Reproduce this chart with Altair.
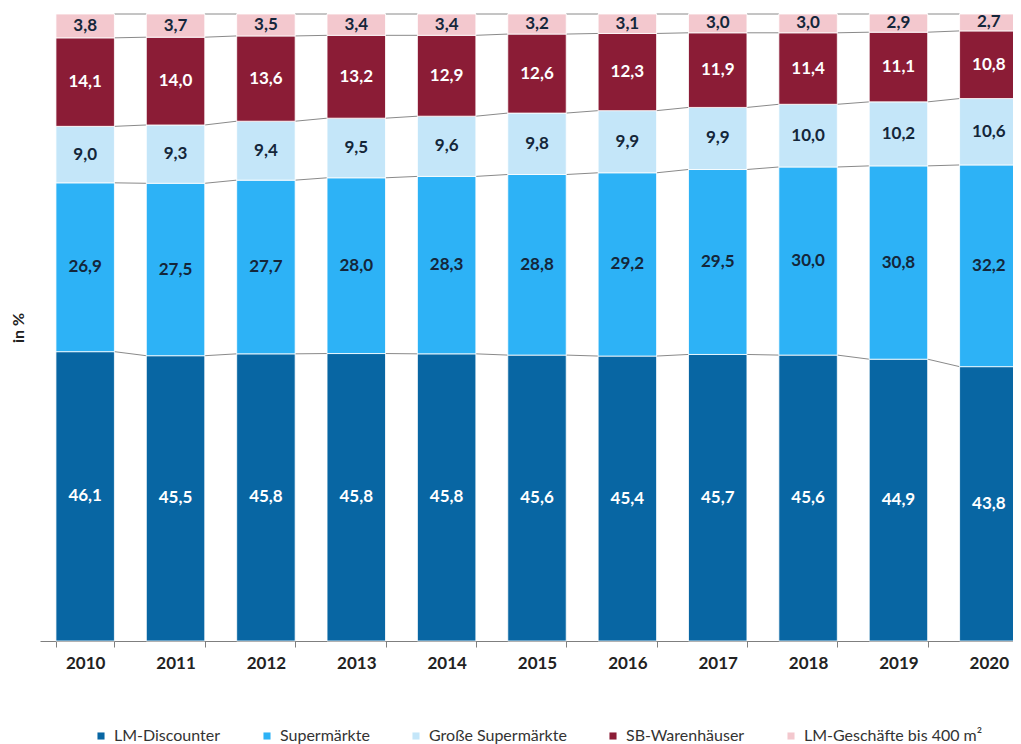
import altair as alt
import pandas as pd

years = [2010, 2011, 2012, 2013, 2014, 2015, 2016, 2017, 2018, 2019, 2020]
categories = ["LM-Discounter", "Supermärkte", "Große Supermärkte", "SB-Warenhäuser", "LM-Geschäfte bis 400 m²"]
discounter = [46.1, 45.5, 45.8, 45.8, 45.8, 45.6, 45.4, 45.7, 45.6, 44.9, 43.8]
supermaerkte = [26.9, 27.5, 27.7, 28.0, 28.3, 28.8, 29.2, 29.5, 30.0, 30.8, 32.2]
grosse = [9.0, 9.3, 9.4, 9.5, 9.6, 9.8, 9.9, 9.9, 10.0, 10.2, 10.6]
warenhaeuser = [14.1, 14.0, 13.6, 13.2, 12.9, 12.6, 12.3, 11.9, 11.4, 11.1, 10.8]
klein = [3.8, 3.7, 3.5, 3.4, 3.4, 3.2, 3.1, 3.0, 3.0, 2.9, 2.7]

colors = ["#0866a3", "#2db2f6", "#c4e6f9", "#8b1c36", "#f3c8ce"]
text_colors = ["#ffffff", "#14263a", "#14263a", "#ffffff", "#14263a"]

series = [discounter, supermaerkte, grosse, warenhaeuser, klein]

rows = []
tops = []
for i, yr in enumerate(years):
    vals = [s[i] for s in series]
    tot = sum(vals)
    cum = 0.0
    t = []
    for k, (cat, v) in enumerate(zip(categories, vals)):
        share = v / tot * 100
        rows.append(dict(year=str(yr), cat=cat, y0=cum, y1=cum + share,
                         mid=cum + share / 2,
                         label=f"{v:.1f}".replace(".", ","),
                         tc=text_colors[k]))
        cum += share
        t.append(cum)
    tops.append(t)
df = pd.DataFrame(rows)

conn_rows = []
for i in range(len(years) - 1):
    for k, cat in enumerate(categories):
        conn_rows.append(dict(year=str(years[i]), nxt=str(years[i + 1]),
                              lvl=tops[i][k], lvl2=tops[i + 1][k]))
conn = pd.DataFrame(conn_rows)

font = "Lato"

xscale = alt.Scale(domain=[str(y) for y in years], range=[0, 994],
                   paddingInner=0.353, paddingOuter=0.1765)
yscale = alt.Scale(domain=[0, 100], nice=False)

xaxis = alt.Axis(title=None, labelAngle=0, labelFont=font, labelFontSize=17,
                 labelFontWeight="bold", labelColor="#222222",
                 domainColor="#7f7f7f", tickColor="#7f7f7f", tickSize=6,
                 tickBand="extent", labelPadding=8)
yaxis = alt.Axis(title="in %", labels=False, ticks=False, domain=False, grid=False,
                 titleFont=font, titleFontSize=16, titleFontWeight="bold",
                 titleColor="#222222", titlePadding=14)

rules = alt.Chart(conn).mark_rule(color="#8a8a8a", strokeWidth=1).encode(
    x=alt.X("year:N", scale=xscale, bandPosition=1, axis=xaxis),
    x2=alt.X2("nxt", bandPosition=0),
    y=alt.Y("lvl:Q", scale=yscale, axis=yaxis),
    y2="lvl2:Q",
)

bars = alt.Chart(df).mark_bar(stroke="white", strokeWidth=0.8).encode(
    x=alt.X("year:N", scale=xscale, axis=xaxis),
    y=alt.Y("y0:Q", scale=yscale, axis=yaxis),
    y2="y1:Q",
    color=alt.Color("cat:N", scale=alt.Scale(domain=categories, range=colors),
                    legend=alt.Legend(title=None, orient="none", legendX=53, legendY=714,
                                      direction="horizontal", symbolType="square",
                                      symbolSize=50, symbolStrokeWidth=0,
                                      labelFont=font, labelFontSize=16,
                                      labelColor="#333333", columnPadding=38,
                                      labelOffset=5, labelLimit=400)),
)

texts = alt.Chart(df).mark_text(font=font, fontWeight="bold", fontSize=17).encode(
    x=alt.X("year:N", scale=xscale, axis=xaxis),
    y=alt.Y("mid:Q", scale=yscale, axis=yaxis),
    text="label:N",
    color=alt.Color("tc:N", scale=None),
)

chart = alt.layer(rules, bars, texts).properties(
    width=973, height=627,
    padding={"left": 32, "top": 6, "right": 0, "bottom": 103},
    autosize=alt.AutoSizeParams(type="none"),
).configure_view(stroke=None)

chart.save("out.html", embed_options={"renderer": "svg", "actions": False})
